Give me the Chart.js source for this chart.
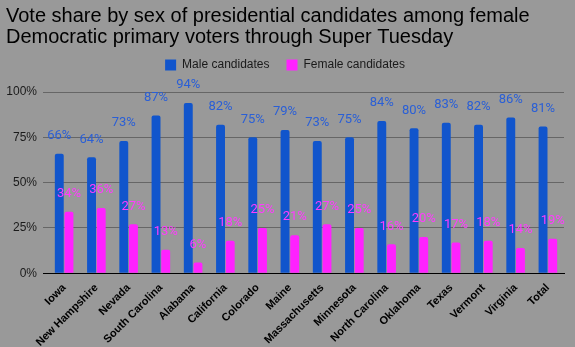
<!DOCTYPE html>
<html>
<head>
<meta charset="utf-8">
<script src="https://cdn.jsdelivr.net/npm/chart.js@4.4.1/dist/chart.umd.min.js"></script>
<style>
  html, body { margin: 0; padding: 0; background: #999999; }
  #wrap { width: 575px; height: 347px; position: relative; }
</style>
</head>
<body>
<div id="wrap"><canvas id="chart"></canvas></div>
<script>
const states = ['Iowa', 'New Hampshire', 'Nevada', 'South Carolina', 'Alabama', 'California',
  'Colorado', 'Maine', 'Massachusetts', 'Minnesota', 'North Carolina', 'Oklahoma',
  'Texas', 'Vermont', 'Virginia', 'Total'];
const maleShare = [66, 64, 73, 87, 94, 82, 75, 79, 73, 75, 84, 80, 83, 82, 86, 81];
const femaleShare = [34, 36, 27, 13, 6, 18, 25, 21, 27, 25, 16, 20, 17, 18, 14, 19];
const titleLines = ['Vote share by sex of presidential candidates among female',
  'Democratic primary voters through Super Tuesday'];

const FONT = '"Liberation Sans", Arial, sans-serif';

// value labels above each bar, same colour as the series
const barLabels = {
  id: 'barLabels',
  afterDatasetsDraw(chart) {
    const ctx = chart.ctx;
    ctx.save();
    ctx.font = '13px Roboto, ' + FONT;
    ctx.textAlign = 'center';
    ctx.textBaseline = 'middle';
    chart.data.datasets.forEach((ds, i) => {
      const meta = chart.getDatasetMeta(i);
      ctx.fillStyle = ds.labelColor;
      meta.data.forEach((bar, j) => {
        ctx.fillText(ds.data[j] + '%', bar.x, bar.y - 18);
      });
    });
    ctx.restore();
  }
};

// a bit more room under the legend
const legendGap = {
  id: 'legendGap',
  beforeInit(chart) {
    const fit = chart.legend.fit;
    chart.legend.fit = function () {
      fit.bind(chart.legend)();
      this.height += 11;
    };
  }
};

new Chart(document.getElementById('chart'), {
  type: 'bar',
  data: {
    labels: states,
    datasets: [
      {
        label: 'Male candidates',
        data: maleShare,
        backgroundColor: '#1155cc',
        labelColor: '#2a5fd6',
        borderRadius: 2,
        categoryPercentage: 0.6,
        barPercentage: 0.92,
      },
      {
        label: 'Female candidates',
        data: femaleShare,
        backgroundColor: '#ff22ff',
        labelColor: '#ff3cff',
        borderRadius: 2,
        categoryPercentage: 0.6,
        barPercentage: 0.92,
      },
    ],
  },
  options: {
    responsive: true,
    maintainAspectRatio: false,
    animation: false,
    devicePixelRatio: 1,
    layout: { padding: { left: 6, right: 11, top: 0, bottom: -2 } },
    plugins: {
      title: {
        display: true,
        text: titleLines,
        align: 'start',
        color: '#000000',
        font: { size: 20, family: FONT, weight: 'normal', lineHeight: 1.05 },
        padding: { top: 6, bottom: -6 },
      },
      legend: {
        position: 'top',
        labels: {
          color: '#1a1a1a',
          font: { size: 12, family: FONT },
          boxWidth: 11,
          boxHeight: 11,
          padding: 17,
        },
      },
      tooltip: { enabled: false },
    },
    scales: {
      x: {
        grid: { display: false },
        border: { color: '#000000', width: 1 },
        ticks: {
          color: '#000000',
          font: { size: 11, family: FONT, weight: 'bold' },
          minRotation: 45,
          maxRotation: 45,
          autoSkip: false,
          padding: 0,
        },
      },
      y: {
        min: 0,
        max: 100,
        border: { display: false },
        afterFit: (scale) => { scale.width = 42; },
        grid: {
          color: (c) => (c.tick && c.tick.value === 0 ? '#000000' : '#666666'),
          tickLength: 5,
        },
        ticks: {
          stepSize: 25,
          color: '#1a1a1a',
          font: { size: 12, family: FONT },
          padding: 6,
          callback: (v) => v + '%',
        },
      },
    },
  },
  plugins: [barLabels, legendGap],
});
</script>
</body>
</html>
